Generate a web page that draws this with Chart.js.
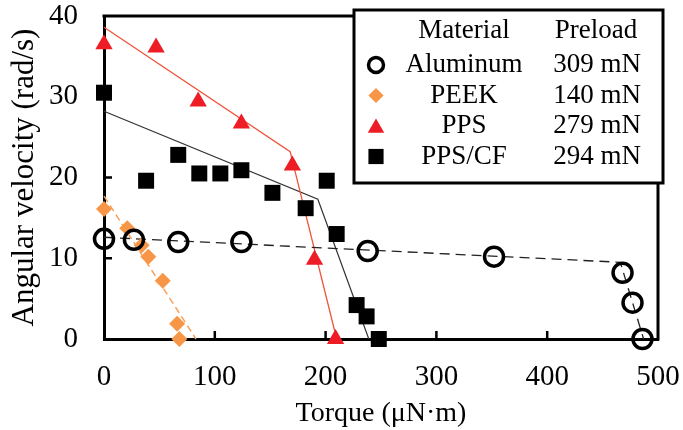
<!DOCTYPE html>
<html>
<head>
    <title>Angular velocity vs torque</title>
    <script src="https://cdn.jsdelivr.net/npm/chart.js"></script>
    <style>
        body { margin: 0; background: #fff; }
    </style>
</head>
<body>
    <canvas id="torqueChart" width="683" height="430"></canvas>
    <script>
        // measured points, torque in uN*m, velocity in rad/s
        const aluminumTorque = [0, 27, 67, 124, 238, 352, 468, 477, 486];
        const aluminumVelocity = [12.4, 12.3, 12.0, 12.0, 10.9, 10.2, 8.2, 4.5, 0];
        const peekTorque = [0, 21, 34, 40, 53, 66, 68];
        const peekVelocity = [16.1, 13.7, 11.6, 10.2, 7.2, 1.9, 0];
        const ppsTorque = [0, 47, 85, 124, 170, 190, 209];
        const ppsVelocity = [36.5, 36.1, 29.4, 26.7, 21.5, 9.8, 0];
        const ppscfTorque = [0, 38, 67, 86, 105, 124, 152, 182, 201, 210, 228, 237, 248];
        const ppscfVelocity = [30.5, 19.6, 22.8, 20.5, 20.5, 20.9, 18.1, 16.2, 19.6, 13.0, 4.2, 2.8, 0];

        // fitted lines (break points)
        const aluminumFitTorque = [0, 466, 487];
        const aluminumFitVelocity = [12.6, 9.5, 0];
        const peekFitTorque = [0, 83];
        const peekFitVelocity = [17.7, 0];
        const ppsFitTorque = [0, 168, 210];
        const ppsFitVelocity = [38.6, 23.2, 0];
        const ppscfFitTorque = [0, 193, 239];
        const ppscfFitVelocity = [28.2, 17.3, 0];

        const materials = ['Aluminum', 'PEEK', 'PPS', 'PPS/CF'];
        const preloads = ['309 mN', '140 mN', '279 mN', '294 mN'];
        const xTicks = [0, 100, 200, 300, 400, 500];
        const yTicks = [0, 10, 20, 30, 40];

        const serif = '"Liberation Serif", "Times New Roman", serif';

        function pts(xs, ys) {
            return xs.map((x, i) => ({ x: x, y: ys[i] }));
        }

        const markerSets = [
            { label: 'Aluminum', data: pts(aluminumTorque, aluminumVelocity), pointStyle: 'circle', pointRadius: 9.5,
              backgroundColor: 'rgba(255,255,255,0)', borderColor: '#000', borderWidth: 3.5 },
            { label: 'PEEK', data: pts(peekTorque, peekVelocity), pointStyle: 'rectRot', pointRadius: 8,
              backgroundColor: '#F79646', borderColor: '#F79646', borderWidth: 0 },
            { label: 'PPS', data: pts(ppsTorque, ppsVelocity), pointStyle: 'triangle', pointRadius: 10,
              backgroundColor: '#EE1C25', borderColor: '#EE1C25', borderWidth: 0 },
            { label: 'PPS/CF', data: pts(ppscfTorque, ppscfVelocity), pointStyle: 'rect', pointRadius: 11.3,
              backgroundColor: '#000', borderColor: '#000', borderWidth: 0 }
        ];
        markerSets.forEach(d => { d.showLine = false; d.order = 1; d.clip = false; d.pointHoverRadius = d.pointRadius; });

        const fitSets = [
            { data: pts(aluminumFitTorque, aluminumFitVelocity), borderColor: '#222', borderWidth: 1.3, borderDash: [10, 6] },
            { data: pts(peekFitTorque, peekFitVelocity), borderColor: '#F5A05A', borderWidth: 1.5, borderDash: [7, 4] },
            { data: pts(ppsFitTorque, ppsFitVelocity), borderColor: '#F0553C', borderWidth: 1.3 },
            { data: pts(ppscfFitTorque, ppscfFitVelocity), borderColor: '#333', borderWidth: 1.2 }
        ];
        fitSets.forEach(d => { d.showLine = true; d.pointRadius = 0; d.order = 2; d.fill = false; d.tension = 0; d.clip = false; });

        // top/right frame and inward tick marks
        const frame = {
            id: 'frame',
            beforeDatasetsDraw(chart) {
                const ctx = chart.ctx;
                const a = chart.chartArea;
                const xs = chart.scales.x, ys = chart.scales.y;
                ctx.save();
                ctx.strokeStyle = '#000';
                ctx.lineWidth = 3;
                ctx.beginPath();
                ctx.moveTo(a.left - 1.5, a.top);
                ctx.lineTo(a.right, a.top);
                ctx.lineTo(a.right, a.bottom + 1.5);
                ctx.stroke();
                ctx.lineWidth = 2.5;
                ctx.beginPath();
                xTicks.slice(1, -1).forEach(v => {
                    const px = xs.getPixelForValue(v);
                    ctx.moveTo(px, a.bottom);
                    ctx.lineTo(px, a.bottom - 8);
                });
                yTicks.slice(1, -1).forEach(v => {
                    const py = ys.getPixelForValue(v);
                    ctx.moveTo(a.left, py);
                    ctx.lineTo(a.left + 8, py);
                });
                ctx.stroke();
                ctx.restore();
            }
        };

        const legendBox = {
            id: 'legendBox',
            afterDraw(chart) {
                const ctx = chart.ctx;
                ctx.save();
                ctx.fillStyle = '#fff';
                ctx.fillRect(354, 10, 309, 173);
                ctx.strokeStyle = '#000';
                ctx.lineWidth = 3;
                ctx.strokeRect(354, 10, 309, 173);
                ctx.font = '27px ' + serif;
                ctx.fillStyle = '#000';
                ctx.textAlign = 'center';
                ctx.textBaseline = 'middle';
                ctx.fillText('Material', 464, 31);
                ctx.fillText('Preload', 596, 31);
                materials.forEach((m, i) => {
                    const y = 65 + i * 30.5;
                    const ds = markerSets[i];
                    ctx.fillStyle = ds.backgroundColor;
                    ctx.strokeStyle = ds.borderColor;
                    ctx.lineWidth = ds.borderWidth;
                    const r = ds.pointStyle === 'circle' ? 7.5 : ds.pointRadius * 0.95;
                    Chart.helpers.drawPoint(ctx, { pointStyle: ds.pointStyle, radius: r, borderWidth: ds.borderWidth, rotation: 0 }, 376, ds.pointStyle === 'triangle' ? y + 2 : y);
                    ctx.fillStyle = '#000';
                    ctx.fillText(m, 464, y);
                    ctx.fillText(preloads[i], 597, y);
                });
                ctx.restore();
            }
        };

        const ctx = document.getElementById('torqueChart').getContext('2d');
        const chart = new Chart(ctx, {
            type: 'scatter',
            data: { datasets: markerSets.concat(fitSets) },
            options: {
                responsive: false,
                animation: false,
                events: [],
                layout: { padding: { top: 16, right: 25, left: 0, bottom: 0 } },
                plugins: { legend: { display: false }, tooltip: { enabled: false } },
                scales: {
                    x: {
                        type: 'linear', min: 0, max: 500,
                        afterBuildTicks: s => { s.ticks = xTicks.map(v => ({ value: v })); },
                        ticks: { color: '#000', padding: 24, maxRotation: 0, font: { family: serif, size: 29, lineHeight: 1 } },
                        grid: { display: false, drawTicks: false },
                        border: { display: true, color: '#000', width: 3 },
                        title: { display: true, text: 'Torque (μN·m)', color: '#000', padding: { top: 0, bottom: 0 },
                                 font: { family: serif, size: 28 } },
                        afterFit: s => { s.height = 91; s.paddingLeft = 0; s.paddingRight = 22; }
                    },
                    y: {
                        type: 'linear', min: 0, max: 40,
                        afterBuildTicks: s => { s.ticks = yTicks.map(v => ({ value: v })); },
                        ticks: { color: '#000', padding: 26, font: { family: serif, size: 29, lineHeight: 1 } },
                        grid: { display: false, drawTicks: false },
                        border: { display: true, color: '#000', width: 3 },
                        title: { display: true, text: 'Angular velocity (rad/s)', color: '#000', padding: { top: 6, bottom: 0 },
                                 font: { family: serif, size: 31 } },
                        afterFit: s => { s.width = 104; s.paddingTop = 15; s.paddingBottom = 15; }
                    }
                }
            },
            plugins: [frame, legendBox]
        });
    </script>
</body>
</html>
